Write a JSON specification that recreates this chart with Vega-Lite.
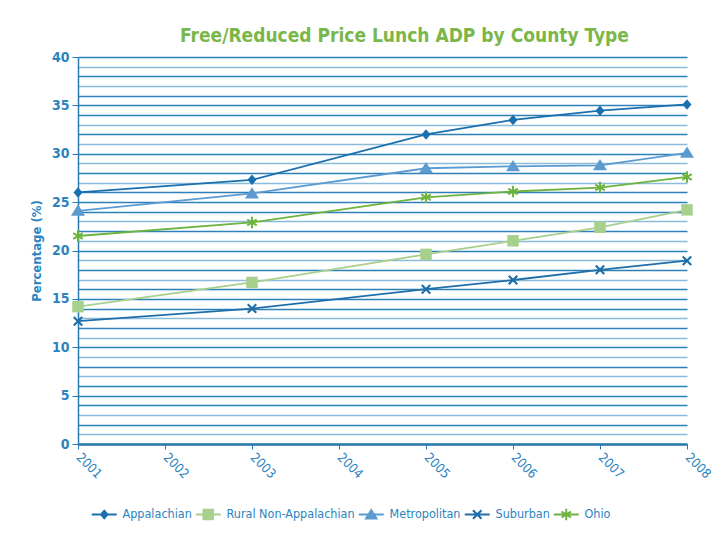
{
  "$schema": "https://vega.github.io/schema/vega-lite/v6.json",
  "width": 609,
  "height": 387,
  "autosize": "none",
  "padding": {"left": 78, "top": 57, "right": 38, "bottom": 93},
  "background": "white",
  "title": {
    "text": "Free/Reduced Price Lunch ADP by County Type",
    "font": "'DejaVu Sans Condensed', Roboto, sans-serif",
    "fontSize": 19,
    "fontWeight": "bold",
    "color": "#7ab648",
    "anchor": "middle",
    "dx": 22,
    "offset": 4
  },
  "data": {
    "values": [
      {"year": 2001, "type": "Appalachian", "value": 26.0},
      {"year": 2003, "type": "Appalachian", "value": 27.3},
      {"year": 2005, "type": "Appalachian", "value": 32.0},
      {"year": 2006, "type": "Appalachian", "value": 33.5},
      {"year": 2007, "type": "Appalachian", "value": 34.45},
      {"year": 2008, "type": "Appalachian", "value": 35.1},
      {"year": 2001, "type": "Rural Non-Appalachian", "value": 14.2},
      {"year": 2003, "type": "Rural Non-Appalachian", "value": 16.7},
      {"year": 2005, "type": "Rural Non-Appalachian", "value": 19.6},
      {"year": 2006, "type": "Rural Non-Appalachian", "value": 21.0},
      {"year": 2007, "type": "Rural Non-Appalachian", "value": 22.4},
      {"year": 2008, "type": "Rural Non-Appalachian", "value": 24.2},
      {"year": 2001, "type": "Metropolitan", "value": 24.1},
      {"year": 2003, "type": "Metropolitan", "value": 25.9},
      {"year": 2005, "type": "Metropolitan", "value": 28.5},
      {"year": 2006, "type": "Metropolitan", "value": 28.7},
      {"year": 2007, "type": "Metropolitan", "value": 28.8},
      {"year": 2008, "type": "Metropolitan", "value": 30.1},
      {"year": 2001, "type": "Suburban", "value": 12.7},
      {"year": 2003, "type": "Suburban", "value": 14.0},
      {"year": 2005, "type": "Suburban", "value": 16.0},
      {"year": 2006, "type": "Suburban", "value": 16.95},
      {"year": 2007, "type": "Suburban", "value": 18.0},
      {"year": 2008, "type": "Suburban", "value": 18.95},
      {"year": 2001, "type": "Ohio", "value": 21.5},
      {"year": 2003, "type": "Ohio", "value": 22.9},
      {"year": 2005, "type": "Ohio", "value": 25.5},
      {"year": 2006, "type": "Ohio", "value": 26.1},
      {"year": 2007, "type": "Ohio", "value": 26.5},
      {"year": 2008, "type": "Ohio", "value": 27.6}
    ]
  },
  "encoding": {
    "x": {
      "field": "year",
      "type": "quantitative",
      "scale": {"domain": [2001, 2008], "nice": false, "zero": false},
      "axis": {
        "title": null,
        "values": [2001, 2002, 2003, 2004, 2005, 2006, 2007, 2008],
        "format": "d",
        "grid": false,
        "labelAngle": 45,
        "labelAlign": "left",
        "labelBaseline": "middle",
        "labelPadding": 6,
        "labelFont": "'DejaVu Sans Condensed', Roboto, sans-serif",
        "labelFontSize": 13,
        "labelColor": "#2b83c0",
        "tickSize": 5,
        "tickColor": "#2a7ab0",
        "domainColor": "#2a7ab0",
        "domainWidth": 2.5
      }
    },
    "y": {
      "field": "value",
      "type": "quantitative",
      "scale": {"domain": [0, 40], "nice": false},
      "axis": {
        "title": "Percentage (%)",
        "titleFont": "'DejaVu Sans Condensed', Roboto, sans-serif",
        "titleFontSize": 13,
        "titleFontWeight": "bold",
        "titleColor": "#2b83c0",
        "titlePadding": 8,
        "values": [0,1,2,3,4,5,6,7,8,9,10,11,12,13,14,15,16,17,18,19,20,21,22,23,24,25,26,27,28,29,30,31,32,33,34,35,36,37,38,39,40],
        "labelExpr": "datum.value % 5 === 0 ? datum.label : ''",
        "labelFont": "'DejaVu Sans Condensed', Roboto, sans-serif",
        "labelFontSize": 14,
        "labelFontWeight": "bold",
        "labelColor": "#2b83c0",
        "labelPadding": 3,
        "tickSize": {"condition": {"test": "datum.value % 5 === 0", "value": 6}, "value": 0},
        "tickColor": "#2a7ab0",
        "domainColor": "#2a7ab0",
        "domainWidth": 1.5,
        "grid": true,
        "gridColor": {"condition": {"test": "datum.value % 5 === 0 || datum.value % 2 === 0", "value": "#2e80b8"}, "value": "#8bbbd9"},
        "gridWidth": 1.3,
        "gridOpacity": 1
      }
    },
    "color": {
      "field": "type",
      "type": "nominal",
      "scale": {
        "domain": ["Appalachian", "Rural Non-Appalachian", "Metropolitan", "Suburban", "Ohio"],
        "range": ["#1a6fae", "#a8d08d", "#5b9bd0", "#1f6eaa", "#6db33f"]
      },
      "legend": {
        "title": null,
        "orient": "none",
        "direction": "horizontal",
        "legendX": 20,
        "legendY": 451,
        "labelFont": "'DejaVu Sans Condensed', Roboto, sans-serif",
        "labelFontSize": 12.5,
        "labelColor": "#2b83c0",
        "labelOffset": 12,
        "columnPadding": 3,
        "symbolSize": 100,
        "symbolOpacity": 1,
        "symbolStrokeWidth": 0
      }
    }
  },
  "layer": [
    {
      "transform": [{"filter": {"field": "value", "lt": -100}}],
      "mark": {"type": "point", "filled": true, "size": 100, "opacity": 1},
      "encoding": {
        "shape": {
          "field": "type",
          "type": "nominal",
          "scale": {
            "domain": ["Appalachian", "Rural Non-Appalachian", "Metropolitan", "Suburban", "Ohio"],
            "range": [
              "M-2.5,-0.2H2.5V0.2H-2.5ZM0,-1.05L0.9,0L0,1.05L-0.9,0Z",
              "M-2.5,-0.2H2.5V0.2H-2.5ZM-1.15,-1.15H1.15V1.15H-1.15Z",
              "M-2.5,-0.2H2.5V0.2H-2.5ZM0,-1.25L1.4,1L-1.4,1Z",
              "M-2.5,-0.2H2.5V0.2H-2.5ZM-0.7,-1L1,0.7L0.7,1L-1,-0.7ZM1,-0.7L-0.7,1L-1,0.7L0.7,-1Z",
              "M-2.5,-0.2H2.5V0.2H-2.5ZM0.2,-1.15L0.2,1.15L-0.2,1.15L-0.2,-1.15ZM-0.85,-0.75L1.05,0.4L0.85,0.75L-1.05,-0.4ZM1.05,-0.4L-0.85,0.75L-1.05,0.4L0.85,-0.75Z"
            ]
          },
          "legend": {"title": null}
        }
      }
    },
    {
      "mark": {"type": "line", "strokeWidth": 1.8},
      "encoding": {"detail": {"field": "type"}}
    },
    {
      "transform": [{"filter": {"field": "type", "equal": "Appalachian"}}],
      "mark": {"type": "point", "filled": true, "size": 100, "opacity": 1, "shape": "M0,-1.05L0.9,0L0,1.05L-0.9,0Z"}
    },
    {
      "transform": [{"filter": {"field": "type", "equal": "Rural Non-Appalachian"}}],
      "mark": {"type": "point", "filled": true, "size": 100, "opacity": 1, "shape": "M-1.15,-1.15H1.15V1.15H-1.15Z"}
    },
    {
      "transform": [{"filter": {"field": "type", "equal": "Metropolitan"}}],
      "mark": {"type": "point", "filled": true, "size": 100, "opacity": 1, "shape": "M0,-1.25L1.4,1L-1.4,1Z"}
    },
    {
      "transform": [{"filter": {"field": "type", "equal": "Suburban"}}],
      "mark": {"type": "point", "filled": true, "size": 100, "opacity": 1, "shape": "M-0.7,-1L1,0.7L0.7,1L-1,-0.7ZM1,-0.7L-0.7,1L-1,0.7L0.7,-1Z"}
    },
    {
      "transform": [{"filter": {"field": "type", "equal": "Ohio"}}],
      "mark": {"type": "point", "filled": true, "size": 100, "opacity": 1, "shape": "M0.2,-1.15L0.2,1.15L-0.2,1.15L-0.2,-1.15ZM-0.85,-0.75L1.05,0.4L0.85,0.75L-1.05,-0.4ZM1.05,-0.4L-0.85,0.75L-1.05,0.4L0.85,-0.75Z"}
    }
  ],
  "config": {
    "view": {"stroke": null}
  }
}
